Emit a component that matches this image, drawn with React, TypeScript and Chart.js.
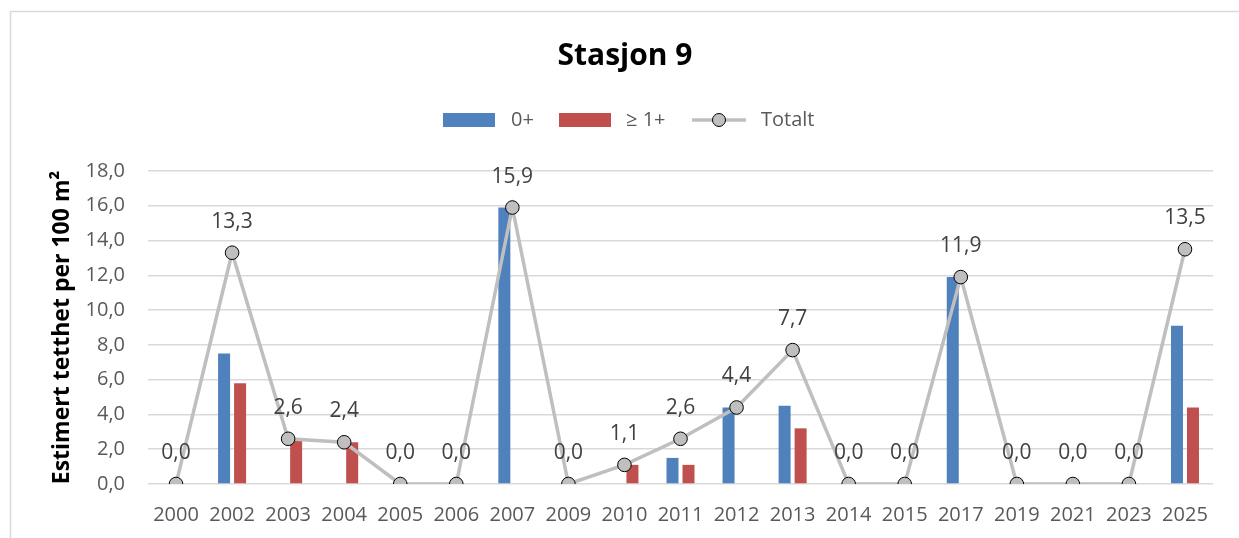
import React, { useEffect, useRef } from "react";
import { Chart, registerables } from "chart.js";

Chart.register(...registerables);

const categories = ["2000", "2002", "2003", "2004", "2005", "2006", "2007", "2009", "2010", "2011", "2012", "2013", "2014", "2015", "2017", "2019", "2021", "2023", "2025"];
const zeroPlus = [0, 7.5, 0, 0, 0, 0, 15.9, 0, 0, 1.5, 4.4, 4.5, 0, 0, 11.9, 0, 0, 0, 9.1];
const onePlus = [0, 5.8, 2.5, 2.4, 0, 0, 0, 0, 1.1, 1.1, 0, 3.2, 0, 0, 0, 0, 0, 0, 4.4];
const totalt = [0, 13.3, 2.6, 2.4, 0, 0, 15.9, 0, 1.1, 2.6, 4.4, 7.7, 0, 0, 11.9, 0, 0, 0, 13.5];
const seriesNames = ["0+", "≥ 1+", "Totalt"];
const titleText = "Stasjon 9";
const yTitle = "Estimert tetthet per 100 m²";

const FONT = "'Open Sans', 'DejaVu Sans', sans-serif";
const BLUE = "#4F81BD";
const RED = "#C0504D";
const GREY = "#BFBFBF";

const fmt = (v: number) => v.toFixed(1).replace(".", ",");

const decor = {
  id: "decor",
  beforeDraw(chart: any) {
    const ctx = chart.ctx;
    ctx.save();
    ctx.fillStyle = "#fff";
    ctx.fillRect(0, 0, chart.width, chart.height);
    ctx.strokeStyle = "#D9D9D9";
    ctx.lineWidth = 1.5;
    ctx.strokeRect(10.5, 11.5, chart.width + 20, chart.height + 20);
    // title
    ctx.fillStyle = "#000";
    ctx.font = `bold 30px ${FONT}`;
    ctx.textAlign = "center";
    ctx.textBaseline = "middle";
    ctx.fillText(titleText, 625, 56);
    // legend
    ctx.font = `20px ${FONT}`;
    ctx.textAlign = "left";
    ctx.fillStyle = BLUE;
    ctx.fillRect(443, 113, 52, 14);
    ctx.fillStyle = "#595959";
    ctx.fillText(seriesNames[0], 511, 120);
    ctx.fillStyle = RED;
    ctx.fillRect(559, 113, 52, 14);
    ctx.fillStyle = "#595959";
    ctx.fillText(seriesNames[1], 626, 120);
    ctx.strokeStyle = GREY;
    ctx.lineWidth = 3.5;
    ctx.beginPath();
    ctx.moveTo(692, 120);
    ctx.lineTo(746, 120);
    ctx.stroke();
    ctx.beginPath();
    ctx.arc(719, 120, 6.5, 0, Math.PI * 2);
    ctx.fillStyle = GREY;
    ctx.fill();
    ctx.strokeStyle = "#000";
    ctx.lineWidth = 1;
    ctx.stroke();
    ctx.fillStyle = "#595959";
    ctx.fillText(seriesNames[2], 761, 120);
    // y axis title
    const ca = chart.chartArea;
    ctx.translate(62, (ca.top + ca.bottom) / 2);
    ctx.rotate(-Math.PI / 2);
    ctx.textAlign = "center";
    ctx.fillStyle = "#000";
    ctx.font = `bold 23px ${FONT}`;
    ctx.fillText(yTitle, 0, 0);
    ctx.restore();
  },
  afterDatasetsDraw(chart: any) {
    const ctx = chart.ctx;
    const meta = chart.getDatasetMeta(2);
    ctx.save();
    ctx.font = `21px ${FONT}`;
    ctx.fillStyle = "#404040";
    ctx.textAlign = "center";
    ctx.textBaseline = "middle";
    meta.data.forEach((p: any, i: number) => {
      ctx.fillText(fmt(totalt[i]), p.x, p.y - 31);
    });
    ctx.restore();
  },
};

export default function App() {
  const ref = useRef<HTMLCanvasElement>(null);
  useEffect(() => {
    if (!ref.current) return;
    Chart.defaults.font.family = FONT;
    const chart = new Chart(ref.current, {
      type: "bar",
      data: {
        labels: categories,
        datasets: [
          {
            label: seriesNames[0],
            data: zeroPlus,
            backgroundColor: BLUE,
            categoryPercentage: 0.571,
            barPercentage: 0.75,
            order: 1,
          },
          {
            label: seriesNames[1],
            data: onePlus,
            backgroundColor: RED,
            categoryPercentage: 0.571,
            barPercentage: 0.75,
            order: 1,
          },
          {
            type: "line",
            label: seriesNames[2],
            data: totalt,
            borderColor: GREY,
            borderWidth: 3.5,
            pointRadius: 6.8,
            pointBackgroundColor: GREY,
            pointBorderColor: "#000",
            pointBorderWidth: 1,
            tension: 0,
            order: 0,
          } as any,
        ],
      },
      options: {
        responsive: false,
        animation: false,
        devicePixelRatio: 1,
        layout: { padding: { left: 0, top: 171, right: 26, bottom: 14 } },
        plugins: {
          legend: { display: false },
          title: { display: false },
          tooltip: { enabled: false },
        },
        scales: {
          x: {
            grid: { display: false, drawTicks: false },
            border: { display: false },
            ticks: { color: "#595959", font: { size: 20, family: FONT }, padding: 19, maxRotation: 0, autoSkip: false },
            afterFit: (s: any) => {
              s.height = 40;
            },
          },
          y: {
            min: 0,
            max: 18,
            grid: { color: "#D9D9D9", lineWidth: 1.5, drawTicks: false },
            border: { display: false },
            ticks: {
              stepSize: 2,
              color: "#595959",
              font: { size: 20, family: FONT },
              padding: 23,
              callback: (v: any) => fmt(Number(v)),
            },
            afterFit: (s: any) => {
              s.width = 148;
            },
          },
        },
      },
      plugins: [decor],
    });
    return () => chart.destroy();
  }, []);
  return (
    <div style={{ position: "fixed", left: 0, top: 0, width: 1239, height: 538 }}>
      <canvas ref={ref} width={1239} height={538} style={{ display: "block" }} />
    </div>
  );
}
